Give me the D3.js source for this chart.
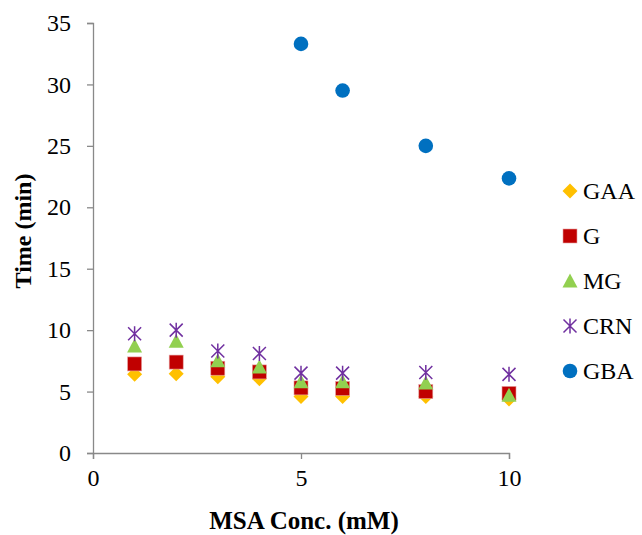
<!DOCTYPE html>
<html><head><meta charset="utf-8">
<script src="https://cdn.jsdelivr.net/npm/d3@7"></script>
<style>body{margin:0;background:#fff}svg{display:block}</style>
</head><body><svg id="c" width="642" height="535"></svg>
<script>
const conc = [1, 2, 3, 4, 5, 6, 8, 10];
const gaa = [6.4, 6.45, 6.2, 6.05, 4.6, 4.6, 4.6, 4.4];
const g   = [7.25, 7.4, 6.9, 6.6, 5.3, 5.25, 5.0, 4.85];
const mg  = [8.7, 9.1, 7.5, 7.0, 5.8, 5.8, 5.7, 4.7];
const crn = [9.7, 10.0, 8.3, 8.1, 6.5, 6.5, 6.55, 6.4];
const gbaConc = [5, 6, 8, 10];
const gba = [33.3, 29.5, 25.0, 22.35];
const xTicks = [0, 5, 10];
const yTicks = [0, 5, 10, 15, 20, 25, 30, 35];
const seriesNames = ["GAA", "G", "MG", "CRN", "GBA"];
const seriesColors = ["#FFC000", "#C00000", "#92D050", "#7030A0", "#0070C0"];

const series = [
  {name: seriesNames[0], xs: conc, ys: gaa, color: seriesColors[0], shape: "diamond"},
  {name: seriesNames[1], xs: conc, ys: g, color: seriesColors[1], shape: "square"},
  {name: seriesNames[2], xs: conc, ys: mg, color: seriesColors[2], shape: "triangle"},
  {name: seriesNames[3], xs: conc, ys: crn, color: seriesColors[3], shape: "star"},
  {name: seriesNames[4], xs: gbaConc, ys: gba, color: seriesColors[4], shape: "circle"}
];

const svg = d3.select("#c");
const x = d3.scaleLinear().domain([0, 10]).range([93, 509]);
const y = d3.scaleLinear().domain([0, 35]).range([453, 23]);
const font = "'Liberation Serif', 'Times New Roman', serif";
const axisColor = "#898989";

const xAxis = svg.append("g").attr("transform", "translate(0,453)")
  .call(d3.axisBottom(x).tickValues(xTicks).tickSize(6).tickPadding(8));
const yAxis = svg.append("g").attr("transform", "translate(93,0)")
  .call(d3.axisLeft(y).tickValues(yTicks).tickSize(6).tickPadding(16));
[xAxis, yAxis].forEach(a => {
  a.select(".domain").attr("stroke", axisColor).attr("stroke-width", 1.3);
  a.selectAll(".tick line").attr("stroke", axisColor).attr("stroke-width", 1.3);
  a.selectAll(".tick text").attr("fill", "#000").style("font-family", font).style("font-size", "24px");
});
xAxis.selectAll(".tick text").attr("dy", "0.8em");

svg.append("text").attr("x", 304).attr("y", 529).attr("text-anchor", "middle")
  .style("font-family", font).style("font-size", "25px").style("font-weight", "bold")
  .text("MSA Conc. (mM)");
svg.append("text").attr("transform", "translate(31,231) rotate(-90)").attr("text-anchor", "middle")
  .style("font-family", font).style("font-size", "24px").style("font-weight", "bold")
  .text("Time (min)");

function drawMarker(sel, shape, color) {
  if (shape === "diamond") {
    sel.append("path").attr("d", "M0,-7.5L7.5,0L0,7.5L-7.5,0Z").attr("fill", color);
  } else if (shape === "square") {
    sel.append("rect").attr("x", -7).attr("y", -7).attr("width", 14).attr("height", 14)
      .attr("fill", color).attr("stroke", "#e4a0a0").attr("stroke-width", 0.6);
  } else if (shape === "triangle") {
    sel.append("path").attr("d", "M0,-7.5L7.5,6.5L-7.5,6.5Z").attr("fill", color);
  } else if (shape === "star") {
    sel.append("path").attr("d", "M-6.5,-6.5L6.5,6.5M-6.5,6.5L6.5,-6.5M0,-7.5L0,7.5")
      .attr("stroke", color).attr("stroke-width", 1.5).attr("fill", "none");
  } else {
    sel.append("circle").attr("r", 7.3).attr("fill", color);
  }
}

series.forEach(s => {
  const gS = svg.append("g");
  s.xs.forEach((xv, i) => {
    const m = gS.append("g").attr("transform", `translate(${x(xv)},${y(s.ys[i])})`);
    drawMarker(m, s.shape, s.color);
  });
});

const legend = svg.append("g");
series.forEach((s, i) => {
  const ly = 191 + i * 45;
  const m = legend.append("g").attr("transform", `translate(570,${ly})`);
  drawMarker(m, s.shape, s.color);
  legend.append("text").attr("x", 583).attr("y", ly).attr("dy", "0.35em")
    .style("font-family", font).style("font-size", "24px").text(s.name);
});
</script></body></html>
